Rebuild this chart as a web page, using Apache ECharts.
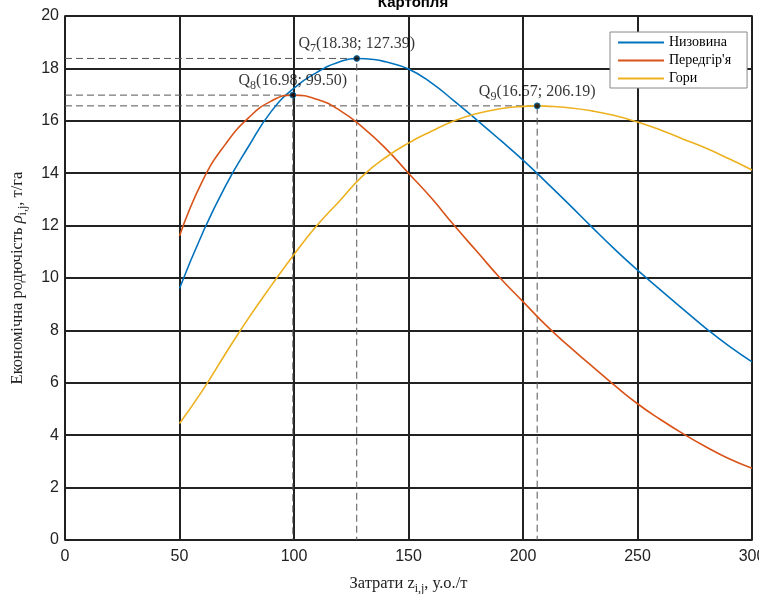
<!DOCTYPE html>
<html>
<head>
<meta charset="utf-8">
<script src="https://cdn.jsdelivr.net/npm/echarts@6/dist/echarts.min.js"></script>
<style>html,body{margin:0;padding:0;background:#fff}#c{width:759px;height:594px}</style>
</head>
<body>
<div id="c"></div>
<script>
const xTicks = [0, 50, 100, 150, 200, 250, 300];
const seriesNames = ['Низовина', "Передгір'я", 'Гори'];
const blueX = [50,60,70,80,90,100,110,120,127.39,135,140,150,160,170,180,190,200,210,220,230,240,250,260,270,280,290,300];
const blueY = [9.6,11.7,13.5,15.0,16.35,17.25,17.85,18.25,18.38,18.34,18.25,17.98,17.45,16.75,16.02,15.27,14.5,13.67,12.82,11.95,11.1,10.3,9.55,8.8,8.07,7.4,6.8];
const orangeX = [50,60,70,80,90,99.5,110,120,130,140,150,160,170,180,190,200,210,220,230,240,250,260,270,280,290,300];
const orangeY = [11.6,13.7,15.1,16.1,16.75,16.98,16.82,16.4,15.75,14.95,14.0,13.05,12.0,11.0,10.0,9.1,8.2,7.4,6.65,5.9,5.2,4.6,4.05,3.55,3.1,2.74];
const yellowX = [50,60,70,80,90,100,110,120,130,140,150,160,170,180,190,200,206.19,210,220,230,240,250,260,270,280,290,300];
const yellowY = [4.45,5.7,7.1,8.45,9.7,10.9,12.0,12.95,13.9,14.6,15.15,15.6,16.0,16.28,16.46,16.55,16.57,16.56,16.5,16.38,16.2,15.95,15.65,15.3,14.95,14.55,14.12];
const peakIdx = ['7', '8', '9'];
const peakX = [127.39, 99.50, 206.19];
const peakY = [18.38, 16.98, 16.57];

const colors = ['#0072BD', '#D95319', '#EDB120'];
const zip = (xs, ys) => xs.map((x, i) => [x, ys[i]]);
const lineData = [zip(blueX, blueY), zip(orangeX, orangeY), zip(yellowX, yellowY)];

const series = [];
peakX.forEach((px, i) => {
  series.push({
    type: 'line', silent: true, symbol: 'none', z: 3,
    data: [[0, peakY[i]], [px, peakY[i]], [px, 0]],
    lineStyle: {color: '#555', width: 1, type: [7, 4]}
  });
});
seriesNames.forEach((n, i) => {
  series.push({
    name: n, type: 'line', smooth: true, symbol: 'none', z: 5,
    data: lineData[i],
    lineStyle: {color: colors[i], width: 1.6},
    itemStyle: {color: colors[i]}
  });
});
series.push({
  type: 'scatter', z: 10, symbolSize: 6,
  itemStyle: {color: '#000', borderColor: '#0072BD', borderWidth: 1},
  data: peakX.map((x, i) => ({
    value: [x, peakY[i]],
    label: {
      show: true, position: 'top', distance: 0,
      formatter: '{a|Q}{s|' + peakIdx[i] + '}{a|(' + peakY[i].toFixed(2) + '; ' + x.toFixed(2) + ')}',
      rich: {
        a: {fontFamily: 'Liberation Serif', fontSize: 16, color: '#000'},
        s: {fontFamily: 'Liberation Serif', fontSize: 12, color: '#000', padding: [10, 0, 0, 0]}
      }
    }
  }))
});

const axisBase = {
  axisLine: {show: true, onZero: false, lineStyle: {color: '#222', width: 1.5}},
  axisTick: {show: true, inside: true, length: 5, lineStyle: {color: '#222'}},
  splitLine: {show: true, lineStyle: {color: '#222', width: 2}}
};
const boxAxis = {
  axisLine: {show: true, onZero: false, lineStyle: {color: '#222', width: 1.5}},
  axisTick: {show: false}, axisLabel: {show: false}, splitLine: {show: false}
};

const chart = echarts.init(document.getElementById('c'), null, {renderer: 'canvas'});
chart.setOption({
  animation: false,
  backgroundColor: '#fff',
  title: {
    text: 'Картопля', left: 408, textAlign: 'center', top: -10,
    textStyle: {fontFamily: 'Liberation Sans', fontSize: 15, fontWeight: 'bold', color: '#000'}
  },
  legend: {
    data: seriesNames.map((n, i) => ({name: n, itemStyle: {color: colors[i]}})),
    orient: 'vertical', left: 610, top: 32,
    icon: 'rect', itemWidth: 46, itemHeight: 2, itemGap: 3,
    backgroundColor: '#fff', borderColor: '#888', borderWidth: 1,
    padding: [3, 16, 2, 8],
    textStyle: {fontFamily: 'Liberation Serif', fontSize: 14, color: '#000', lineHeight: 15}
  },
  grid: {left: 65, right: 7, top: 16, bottom: 54, containLabel: false, outerBoundsMode: 'none'},
  xAxis: [Object.assign({
    type: 'value', min: 0, max: 300, interval: 50,
    name: '{n|Затрати z}{s|i,j}{n|, у.о./т}',
    nameLocation: 'middle', nameGap: 32,
    nameTextStyle: {
      rich: {
        n: {fontFamily: 'Liberation Serif', fontSize: 16.5, color: '#222'},
        s: {fontFamily: 'Liberation Serif', fontSize: 12, color: '#222', padding: [11, 0, 0, 0]}
      }
    },
    axisLabel: {fontFamily: 'Liberation Sans', fontSize: 16, color: '#222', margin: 9}
  }, axisBase), Object.assign({type: 'value', min: 0, max: 300, position: 'top'}, boxAxis)],
  yAxis: [Object.assign({
    type: 'value', min: 0, max: 20, interval: 2,
    name: '{n|Економічна родючість }{r|ρ}{s|i,j}{n|, т/га}',
    nameLocation: 'middle', nameGap: 36, nameRotate: 90,
    nameTextStyle: {
      rich: {
        n: {fontFamily: 'Liberation Serif', fontSize: 16.5, color: '#222'},
        r: {fontFamily: 'Liberation Serif', fontSize: 16.5, fontStyle: 'italic', color: '#222'},
        s: {fontFamily: 'Liberation Serif', fontSize: 12, color: '#222', padding: [11, 0, 0, 0]}
      }
    },
    axisLabel: {fontFamily: 'Liberation Sans', fontSize: 16, color: '#222', margin: 6}
  }, axisBase), Object.assign({type: 'value', min: 0, max: 20, position: 'right'}, boxAxis)],
  series: series
});
</script>
</body>
</html>
